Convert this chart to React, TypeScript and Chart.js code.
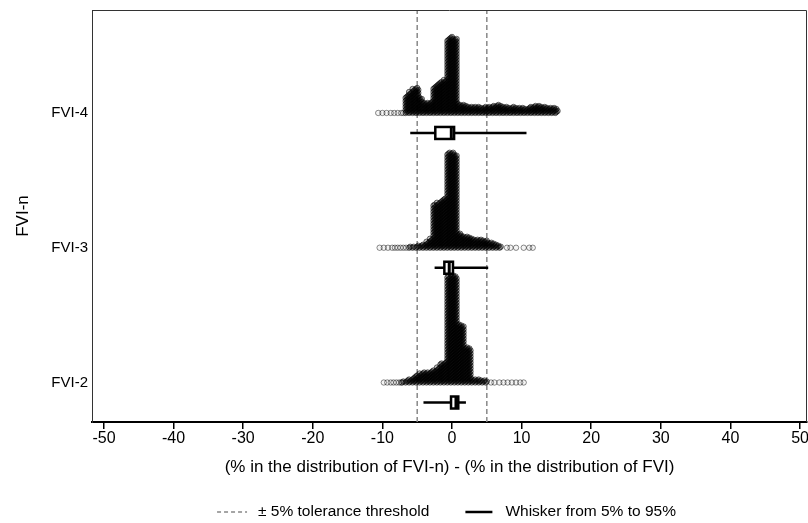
import React, { useEffect, useRef } from 'react';
import { Chart, registerables } from 'chart.js';

Chart.register(...registerables);

// ---------- data ----------
const CATEGORIES = ['FVI-2', 'FVI-3', 'FVI-4'];
const CATEGORY_POS = [1, 2, 3];
const X_TICKS = [-50, -40, -30, -20, -10, 0, 10, 20, 30, 40, 50];
const THRESHOLDS = [-5, 5];

const X_TITLE = '(% in the distribution of FVI-n) - (% in the distribution of FVI)';
const Y_TITLE = 'FVI-n';
const LEGEND_DASHED = '\u00B1 5% tolerance threshold';
const LEGEND_SOLID = 'Whisker from 5% to 95%';

const BIN_WIDTH = 0.5;

// dense dot stacks (number of stacked dots per bin), starting at *_START
const FVI2_START = -7.0;
const FVI2_COUNTS = [2, 3, 4, 6, 8, 10, 11, 11, 12, 13, 16, 20, 21, 107, 109, 107, 59, 58, 36, 35, 4, 4, 4, 3, 2];
const FVI2_SPARSE = [-9.8, -9.3, -8.8, -8.4, -8.0, -7.6, -7.3, 5.6, 6.1, 6.8, 7.4, 8.0, 8.6, 9.2, 9.8, 10.3];

const FVI3_START = -6.0;
const FVI3_COUNTS = [2, 2, 3, 3, 4, 7, 10, 44, 46, 48, 50, 96, 96, 94, 15, 13, 12, 11, 10, 9, 9, 8, 8, 6, 5, 4, 2];
const FVI3_SPARSE = [-10.4, -9.8, -9.2, -8.6, -8.2, -7.8, -7.4, -7.0, -6.6, 7.9, 8.4, 9.2, 10.3, 11.1, 11.6];

const FVI4_START = -6.5;
const FVI4_COUNTS = [18, 22, 25, 26, 16, 11, 11, 12, 27, 30, 32, 34, 75, 77, 75, 10, 9, 8, 7, 7, 7, 7, 6, 7, 7, 8, 9, 8, 7, 7, 6, 7, 6, 6, 5, 6, 7, 8, 8, 7, 7, 6, 6, 5];
const FVI4_SPARSE = [-10.6, -10.0, -9.4, -8.8, -8.3, -7.8, -7.3, -7.0];

// box plot summaries (FVI-2, FVI-3, FVI-4)
const WHISKER_LO = [-4.1, -2.5, -6.0];
const Q1 = [-0.14, -1.1, -2.4];
const MEDIAN = [0.57, -0.4, -0.1];
const Q3 = [0.9, 0.14, 0.3];
const WHISKER_HI = [2.0, 5.2, 10.7];

// ---------- layout constants ----------
const X_MIN = -51.72;
const X_MAX = 51.0;
const Y_MIN = 0.707;
const Y_MAX = 3.764;
const PX_PER_Y = 134.75;
const STACK_STEP = 1 / PX_PER_Y;
const BOX_OFFSET = 20 / PX_PER_Y;
const BOX_HALF = 6 / PX_PER_Y;
const SPREAD = BIN_WIDTH / 3;

const FONT = '"Liberation Sans", Arial, Helvetica, sans-serif';

function buildDense(pos: number, start: number, counts: number[]) {
  const pts: { x: number; y: number }[] = [];
  counts.forEach((c, i) => {
    const x = start + i * BIN_WIDTH;
    for (let k = 0; k < c; k++) pts.push({ x: x + ((k % 3) - 1) * SPREAD, y: pos + k * STACK_STEP });
  });
  return pts;
}

function buildSparse(pos: number, sparse: number[]) {
  return sparse.map((x) => ({ x, y: pos }));
}

const boxPlugin = {
  id: 'boxes',
  afterLayout(chart: any) {
    const xs = chart.scales.x;
    const right = chart.width - 1;
    if (xs && chart.chartArea.right !== right) {
      chart.chartArea.right = right;
      chart.chartArea.width = right - chart.chartArea.left;
      xs.right = right;
      xs.width = right - xs.left;
      xs.configure();
    }
  },
  afterDatasetsDraw(chart: any) {
    const { ctx, scales } = chart;
    const xs = scales.x;
    const ys = scales.y;
    ctx.save();
    CATEGORY_POS.forEach((pos, i) => {
      const yc = pos - BOX_OFFSET;
      const top = ys.getPixelForValue(yc + BOX_HALF);
      const bot = ys.getPixelForValue(yc - BOX_HALF);
      const l = xs.getPixelForValue(Q1[i]);
      const r = xs.getPixelForValue(Q3[i]);
      ctx.fillStyle = '#fff';
      ctx.fillRect(l, top, r - l, bot - top);
      ctx.lineWidth = 2.5;
      ctx.strokeStyle = '#000';
      ctx.strokeRect(l, top, r - l, bot - top);
      const m = xs.getPixelForValue(MEDIAN[i]);
      ctx.beginPath();
      ctx.moveTo(m, top);
      ctx.lineTo(m, bot);
      ctx.lineWidth = 3;
      ctx.stroke();
    });
    ctx.restore();
  },
  afterDraw(chart: any) {
    const { ctx, chartArea, scales } = chart;
    ctx.save();
    // frame
    ctx.strokeStyle = '#333';
    ctx.lineWidth = 1;
    ctx.beginPath();
    ctx.moveTo(chartArea.left + 0.5, chartArea.bottom);
    ctx.lineTo(chartArea.left + 0.5, chartArea.top + 0.5);
    ctx.lineTo(chartArea.right - 0.5, chartArea.top + 0.5);
    ctx.lineTo(chartArea.right - 0.5, chartArea.bottom);
    ctx.stroke();
    // x tick labels
    ctx.font = `16px ${FONT}`;
    ctx.fillStyle = '#000';
    ctx.textAlign = 'center';
    ctx.textBaseline = 'top';
    X_TICKS.forEach((v) => {
      ctx.fillText(String(v), scales.x.getPixelForValue(v), chartArea.bottom + 9);
    });
    // legend
    ctx.textAlign = 'left';
    ctx.font = `15.5px ${FONT}`;
    ctx.textBaseline = 'middle';
    const w1 = ctx.measureText(LEGEND_DASHED).width;
    const w2 = ctx.measureText(LEGEND_SOLID).width;
    const s1 = 30, g1 = 11, sp = 36, s2 = 27, g2 = 13;
    const total = s1 + g1 + w1 + sp + s2 + g2 + w2;
    let x = (chartArea.left + chartArea.right) / 2 - total / 2 - 3;
    const y = chartArea.bottom + 90;
    ctx.beginPath();
    ctx.setLineDash([4, 3]);
    ctx.strokeStyle = '#888';
    ctx.lineWidth = 1.5;
    ctx.moveTo(x, y);
    ctx.lineTo(x + s1, y);
    ctx.stroke();
    ctx.setLineDash([]);
    x += s1 + g1;
    ctx.fillText(LEGEND_DASHED, x, y);
    x += w1 + sp;
    ctx.beginPath();
    ctx.strokeStyle = '#000';
    ctx.lineWidth = 2.5;
    ctx.moveTo(x, y);
    ctx.lineTo(x + s2, y);
    ctx.stroke();
    x += s2 + g2;
    ctx.fillText(LEGEND_SOLID, x, y);
    ctx.restore();
  },
};

export default function App() {
  const ref = useRef<HTMLCanvasElement | null>(null);

  useEffect(() => {
    if (!ref.current) return;
    Chart.defaults.font.family = FONT;
    Chart.defaults.color = '#000';

    const dense = [
      buildDense(CATEGORY_POS[0], FVI2_START, FVI2_COUNTS),
      buildDense(CATEGORY_POS[1], FVI3_START, FVI3_COUNTS),
      buildDense(CATEGORY_POS[2], FVI4_START, FVI4_COUNTS),
    ];
    const sparse = [
      buildSparse(CATEGORY_POS[0], FVI2_SPARSE),
      buildSparse(CATEGORY_POS[1], FVI3_SPARSE),
      buildSparse(CATEGORY_POS[2], FVI4_SPARSE),
    ];

    const datasets: any[] = [];
    CATEGORY_POS.forEach((pos, i) => {
      datasets.push({
        type: 'line',
        label: 'whisker ' + CATEGORIES[i],
        data: [
          { x: WHISKER_LO[i], y: pos - BOX_OFFSET },
          { x: WHISKER_HI[i], y: pos - BOX_OFFSET },
        ],
        borderColor: '#000',
        borderWidth: 2.5,
        pointRadius: 0,
        showLine: true,
        order: 0,
      });
    });
    dense.forEach((pts, i) => {
      datasets.push({
        type: 'scatter',
        label: CATEGORIES[i],
        data: pts,
        pointRadius: 2.7,
        pointBorderWidth: 1,
        borderColor: 'rgba(0,0,0,0.55)',
        backgroundColor: 'rgba(0,0,0,0.25)',
        order: 1,
      });
    });
    sparse.forEach((pts, i) => {
      datasets.push({
        type: 'scatter',
        label: CATEGORIES[i] + ' tails',
        data: pts,
        pointRadius: 2.7,
        pointBorderWidth: 1,
        borderColor: 'rgba(0,0,0,0.45)',
        backgroundColor: 'rgba(0,0,0,0.04)',
        order: 1,
      });
    });
    THRESHOLDS.forEach((t) => {
      datasets.push({
        type: 'line',
        label: 'threshold ' + t,
        data: [
          { x: t, y: Y_MIN },
          { x: t, y: Y_MAX },
        ],
        borderColor: '#888',
        borderWidth: 1.5,
        borderDash: [5, 3],
        pointRadius: 0,
        showLine: true,
        order: 2,
      });
    });

    const chart = new Chart(ref.current, {
      type: 'scatter',
      data: { datasets },
      options: {
        animation: false,
        responsive: false,
        devicePixelRatio: 1,
        events: [],
        layout: { padding: { top: 10, right: 1, bottom: 0, left: 0 } },
        plugins: { legend: { display: false }, tooltip: { enabled: false } },
        scales: {
          x: {
            type: 'linear',
            min: X_MIN,
            max: X_MAX,
            afterBuildTicks: (s: any) => {
              s.ticks = X_TICKS.map((v) => ({ value: v }));
            },
            afterFit: (s: any) => {
              s.height = 101;
            },
            grid: {
              display: true,
              drawOnChartArea: false,
              drawTicks: true,
              tickLength: 7,
              color: '#000',
              lineWidth: 1.5,
            },
            border: { display: true, color: '#000', width: 2 },
            ticks: { display: false },
            title: {
              display: true,
              text: X_TITLE,
              font: { size: 17 },
              color: '#000',
              padding: { top: 0, bottom: 45 },
            },
          },
          y: {
            type: 'linear',
            min: Y_MIN,
            max: Y_MAX,
            afterBuildTicks: (s: any) => {
              s.ticks = CATEGORY_POS.map((v) => ({ value: v }));
            },
            afterFit: (s: any) => {
              s.width = 92;
              s.paddingTop = 0;
              s.paddingBottom = 0;
            },
            grid: { display: false, drawTicks: false },
            border: { display: true, color: '#333', width: 1 },
            ticks: {
              font: { size: 15 },
              color: '#000',
              padding: 4,
              autoSkip: false,
              callback: (v: any) => {
                const idx = CATEGORY_POS.indexOf(Number(v));
                return idx >= 0 ? CATEGORIES[idx] : '';
              },
            },
            title: {
              display: true,
              text: Y_TITLE,
              font: { size: 17 },
              color: '#000',
              padding: { top: 13, bottom: 0 },
            },
          },
        },
      },
      plugins: [boxPlugin],
    } as any);

    return () => chart.destroy();
  }, []);

  return (
    <div style={{ position: 'fixed', left: 0, top: 0, width: 808, height: 523, background: '#fff' }}>
      <canvas ref={ref} width={808} height={523} style={{ width: 808, height: 523, display: 'block' }} />
    </div>
  );
}
